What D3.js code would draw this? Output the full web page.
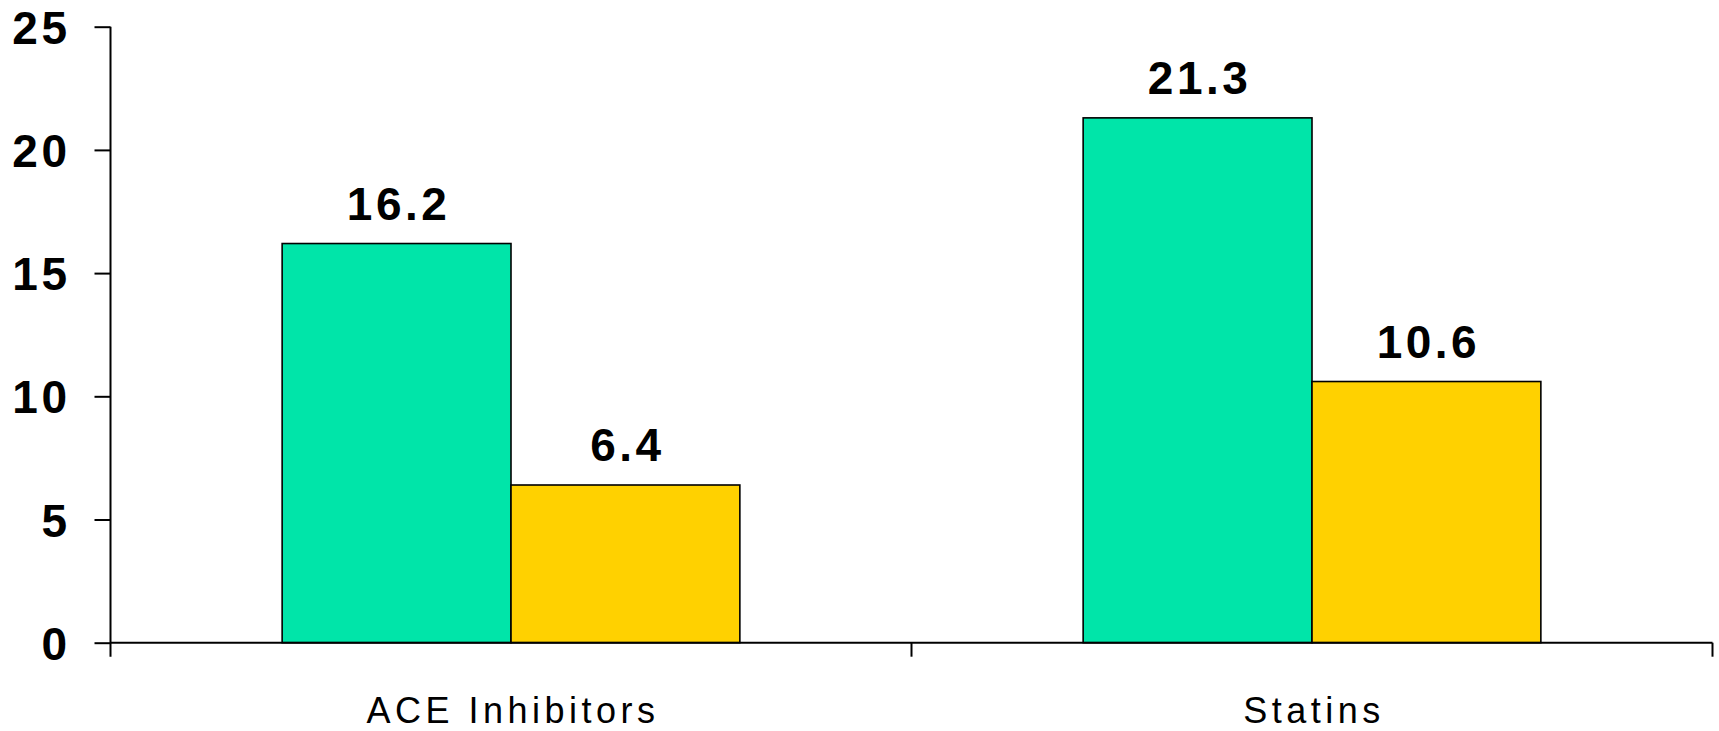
<!DOCTYPE html>
<html>
<head>
<meta charset="utf-8">
<script src="https://cdn.jsdelivr.net/npm/d3@7"></script>
<style>
  html, body { margin: 0; padding: 0; background: #fff; }
  svg { display: block; }
</style>
</head>
<body>
<div id="chart"></div>
<script>
///////// data //////////
const categories = ["ACE Inhibitors", "Statins"];
const series = ["first", "second"];
const values_first = [16.2, 21.3];
const values_second = [6.4, 10.6];
const y_ticks = [0, 5, 10, 15, 20, 25];
const series_colors = ["#00e5a9", "#ffd100"];

///////// layout //////////
const W = 1719, H = 731;
const margin = {top: 26.7, right: 6.5, bottom: 88.3, left: 110.5};
const width = W - margin.left - margin.right;
const height = H - margin.top - margin.bottom;

let svg = d3.select("#chart")
  .append("svg")
  .attr("width", W)
  .attr("height", H);

let g = svg.append("g")
  .attr("transform", "translate(" + margin.left + "," + margin.top + ")");

// scales
let x = d3.scaleBand()
  .domain(categories)
  .range([0, width])
  .paddingInner(0)
  .paddingOuter(0);

let xs = d3.scaleBand()
  .domain(series)
  .range([0, x.bandwidth()])
  .paddingInner(0)
  .paddingOuter(0.75);

let y = d3.scaleLinear()
  .domain([0, 25])
  .range([height, 0]);

// build rows
let rows = [];
categories.forEach(function(c, i) {
  rows.push({cat: c, s: series[0], v: values_first[i], color: series_colors[0]});
  rows.push({cat: c, s: series[1], v: values_second[i], color: series_colors[1]});
});

// bars
g.selectAll("rect.bar")
  .data(rows)
  .enter()
  .append("rect")
  .attr("class", "bar")
  .attr("x", d => x(d.cat) + xs(d.s))
  .attr("y", d => y(d.v))
  .attr("width", xs.bandwidth())
  .attr("height", d => y(0) - y(d.v))
  .attr("fill", d => d.color)
  .attr("stroke", "#000")
  .attr("stroke-width", 1.6);

// value labels
g.selectAll("text.val")
  .data(rows)
  .enter()
  .append("text")
  .attr("class", "val")
  .attr("x", d => x(d.cat) + xs(d.s) + xs.bandwidth() / 2 + 2)
  .attr("y", d => y(d.v) - 24)
  .attr("text-anchor", "middle")
  .style("font-family", "'Liberation Sans', Arial, sans-serif")
  .style("font-weight", "bold")
  .style("font-size", "46px")
  .style("letter-spacing", "3.5px")
  .attr("fill", "#000")
  .text(d => d.v.toFixed(1));

// y axis
let yAxis = g.append("g")
  .call(d3.axisLeft(y).tickValues(y_ticks).tickSize(16).tickPadding(24).tickFormat(d3.format("d")));
yAxis.select(".domain").attr("stroke", "#000").attr("stroke-width", 2)
  .attr("d", "M0," + y(25) + "V" + (height + 14));
yAxis.selectAll(".tick line").attr("stroke", "#000").attr("stroke-width", 2);
yAxis.selectAll(".tick text")
  .attr("fill", "#000")
  .attr("dy", "0.36em")
  .style("font-family", "'Liberation Sans', Arial, sans-serif")
  .style("font-weight", "bold")
  .style("font-size", "46px")
  .style("letter-spacing", "3.5px");

// x axis: baseline plus separator ticks at band edges
let xAxis = g.append("g").attr("transform", "translate(0," + height + ")");
xAxis.append("line")
  .attr("x1", 0).attr("x2", width)
  .attr("y1", 0).attr("y2", 0)
  .attr("stroke", "#000").attr("stroke-width", 2);
let edges = categories.map(c => x(c)).concat([x.range()[1]]);
xAxis.selectAll("line.sep")
  .data(edges.slice(1))
  .enter()
  .append("line")
  .attr("class", "sep")
  .attr("x1", d => d).attr("x2", d => d)
  .attr("y1", 0).attr("y2", 14)
  .attr("stroke", "#000").attr("stroke-width", 2);
xAxis.selectAll("text.cat")
  .data(categories)
  .enter()
  .append("text")
  .attr("class", "cat")
  .attr("x", d => x(d) + x.bandwidth() / 2 + 2)
  .attr("y", 80)
  .attr("text-anchor", "middle")
  .style("font-family", "'Liberation Sans', Arial, sans-serif")
  .style("font-size", "36px")
  .style("letter-spacing", "4.5px")
  .attr("fill", "#000")
  .text(d => d);
</script>
</body>
</html>
